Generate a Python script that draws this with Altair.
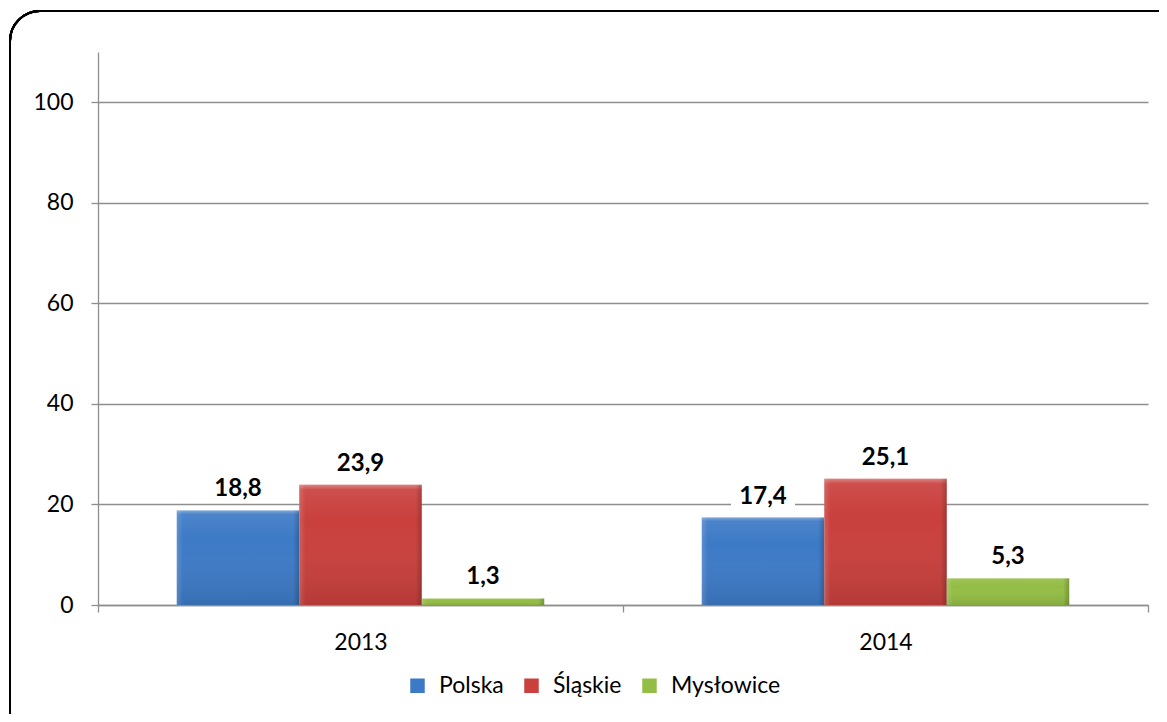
import altair as alt
import pandas as pd

years = ["2013", "2014"]
series = ["Polska", "Śląskie", "Mysłowice"]
polska = [18.8, 17.4]
slaskie = [23.9, 25.1]
myslowice = [1.3, 5.3]
colors = ["#3D7AC6", "#C9403D", "#94BD45"]
y_ticks = [0, 20, 40, 60, 80, 100]

rows = []
for i, yr in enumerate(years):
    for s, vals in zip(series, [polska, slaskie, myslowice]):
        v = vals[i]
        rows.append({"year": yr, "series": s, "value": v,
                     "label": f"{v:.1f}".replace(".", ",")})
df = pd.DataFrame(rows)

FONT = "Lato"
GRID = "#8E8E8E"

x_enc = alt.X("year:N", sort=years,
              scale=alt.Scale(paddingInner=0, paddingOuter=0),
              axis=alt.Axis(title=None, labelAngle=0, tickBand="extent",
                            grid=False, domainColor=GRID, domainWidth=1.3,
                            tickColor=GRID, tickWidth=1.3, tickSize=7,
                            labelFont=FONT, labelFontSize=23, labelColor="#000000",
                            labelPadding=19))
xo_enc = alt.XOffset("series:N", sort=series,
                     scale=alt.Scale(paddingInner=0, paddingOuter=0.643))
y_enc = alt.Y("value:Q",
              scale=alt.Scale(domain=[0, 110], nice=False),
              axis=alt.Axis(title=None, values=y_ticks, grid=True,
                            gridColor=GRID, gridWidth=1.3,
                            domainColor=GRID, domainWidth=1.3,
                            tickColor=GRID, tickWidth=1.3, tickSize=7,
                            labelFont=FONT, labelFontSize=23, labelColor="#000000",
                            labelPadding=18))

base = alt.Chart(df)

frame = base.mark_rect(cornerRadius=30, fill="white", fillOpacity=0,
                       stroke="#000000", strokeWidth=2).encode(
    x=alt.value(-88), x2=alt.value(1095), y=alt.value(-41), y2=alt.value(690)
)

bars = base.mark_bar().encode(
    x=x_enc, xOffset=xo_enc, y=y_enc,
    color=alt.Color("series:N", sort=series,
                    scale=alt.Scale(domain=series, range=colors),
                    legend=alt.Legend(title=None, orient="none", direction="horizontal",
                                      legendX=308, legendY=622,
                                      symbolType="square", symbolSize=210,
                                      symbolStrokeWidth=0, symbolOpacity=1,
                                      labelFont=FONT, labelFontSize=23,
                                      labelColor="#000000", labelOffset=10,
                                      columnPadding=16))
)

vgrad = alt.Gradient(gradient="linear", x1=0, x2=0, y1=0, y2=1, stops=[
    alt.GradientStop(color="rgba(255,255,255,0.35)", offset=0),
    alt.GradientStop(color="rgba(255,255,255,0.08)", offset=0.04),
    alt.GradientStop(color="rgba(255,255,255,0)", offset=0.3),
    alt.GradientStop(color="rgba(0,0,0,0.1)", offset=1),
])
hgrad = alt.Gradient(gradient="linear", x1=0, x2=1, y1=0, y2=0, stops=[
    alt.GradientStop(color="rgba(255,255,255,0.15)", offset=0),
    alt.GradientStop(color="rgba(255,255,255,0)", offset=0.05),
    alt.GradientStop(color="rgba(0,0,0,0)", offset=0.95),
    alt.GradientStop(color="rgba(0,0,0,0.2)", offset=1),
])
shade_v = base.mark_bar(fill=vgrad).encode(x=x_enc, xOffset=xo_enc, y=y_enc)
shade_h = base.mark_bar(fill=hgrad).encode(x=x_enc, xOffset=xo_enc, y=y_enc)

box = base.mark_point(shape="M-1.6,-1.9L1.6,-1.9L1.6,-0.4L-1.6,-0.4Z",
                      filled=True, fill="white", opacity=1, size=1600,
                      strokeWidth=0).encode(x=x_enc, xOffset=xo_enc, y=y_enc)

text = base.mark_text(dy=-14, baseline="alphabetic", align="center",
                      font=FONT, fontSize=24, fontWeight="bold",
                      color="#000000").encode(
    x=x_enc, xOffset=xo_enc, y=y_enc, text="label:N"
)

chart = alt.layer(frame, bars, shade_v, shade_h, box, text).properties(
    width=1050, height=553,
    autosize=alt.AutoSizeParams(type="none"),
    padding={"left": 90, "top": 44, "right": 11, "bottom": 109},
    background="white",
).configure_view(strokeWidth=0)

chart.save("out.html", embed_options={"renderer": "svg", "actions": False})
